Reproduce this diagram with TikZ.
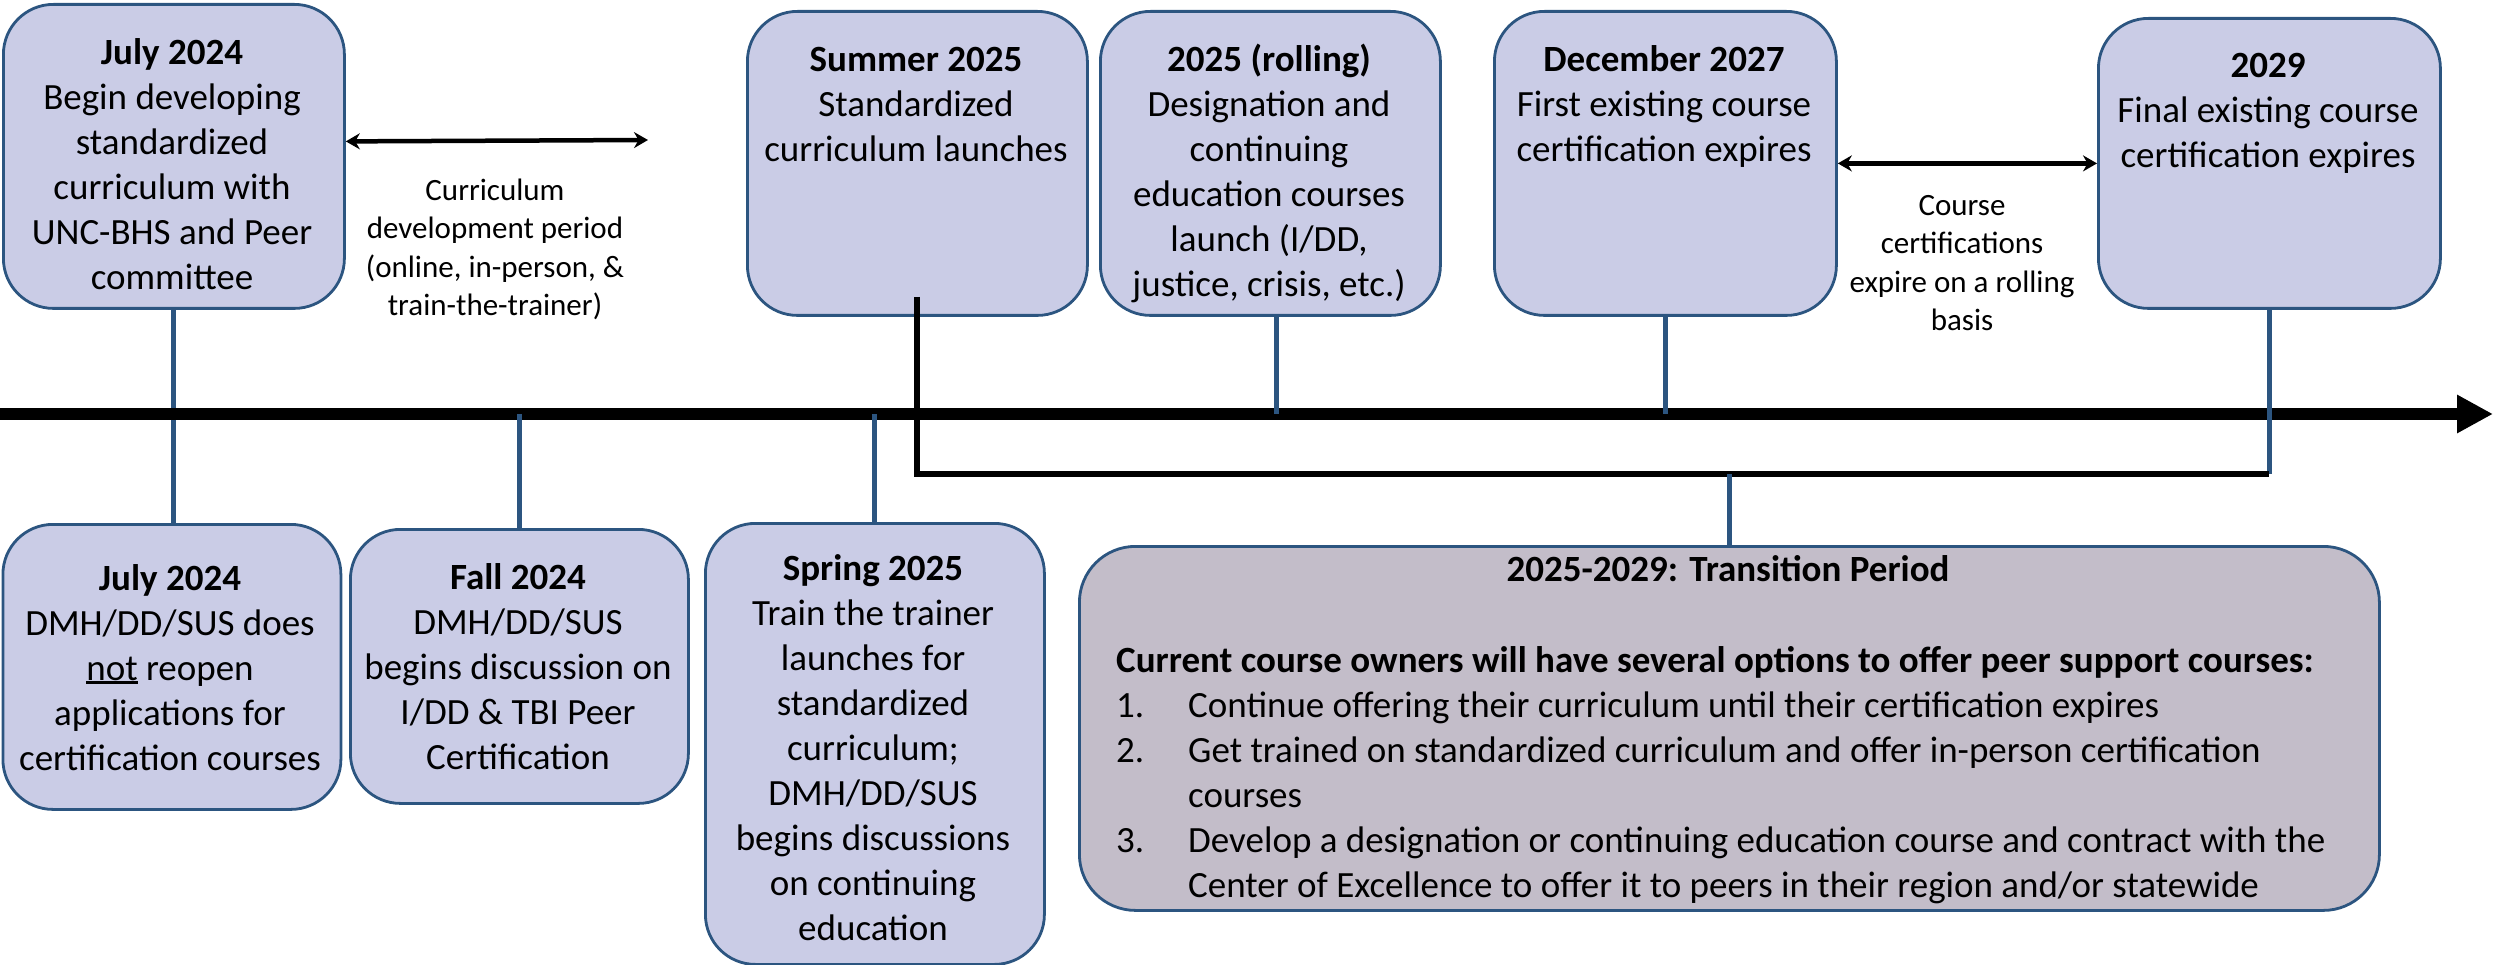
\documentclass[tikz,border=0pt]{standalone}
\usepackage{fontspec}
\setmainfont{Carlito}
\usetikzlibrary{arrows.meta}
\definecolor{boxfill}{RGB}{202,204,230}
\definecolor{transfill}{RGB}{195,189,201}
\definecolor{edgeblue}{RGB}{44,85,128}
\newcommand\myul[1]{\setbox0\hbox{#1}\rlap{\rule[-4pt]{\wd0}{2.8pt}}\box0\relax}
\begin{document}
\begin{tikzpicture}[x=1pt,y=-1pt,
  box/.style={draw=edgeblue, line width=2.8pt, fill=boxfill, rounded corners=50pt, inner sep=0pt, anchor=north west, shape=rectangle},
  tbox/.style={box, fill=transfill, rounded corners=56pt},
  txt/.style={align=center, inner sep=0pt, anchor=north, font=\fontsize{37}{45}\selectfont},
  small/.style={align=center, inner sep=0pt, anchor=north, font=\fontsize{31}{38.5}\selectfont},
  stem/.style={draw=edgeblue, line width=5pt},
  dbl/.style={draw=black, line width=4.5pt, {Stealth[length=14pt,width=16pt]}-{Stealth[length=14pt,width=16pt]}}
]
\useasboundingbox (0,0) rectangle (2496,965);

% boxes
\node[box, minimum width=341pt, minimum height=304pt] (b1) at (2,3) {};
\node[box, minimum width=340pt, minimum height=304pt] (bsum) at (746,10) {};
\node[box, minimum width=340pt, minimum height=304pt] (broll) at (1099,10) {};
\node[box, minimum width=342pt, minimum height=304pt] (bdec) at (1493,10) {};
\node[box, minimum width=342pt, minimum height=290pt] (b29) at (2097,17) {};
\node[box, minimum width=338pt, minimum height=285pt] (b6) at (1.5,523) {};
\node[box, minimum width=338pt, minimum height=274pt] (bfall) at (349,528) {};
\node[box, minimum width=339pt, minimum height=441pt] (bspr) at (704,522) {};
\node[tbox, minimum width=1300pt, minimum height=364pt] (btr) at (1078,545) {};

% coordinates
\coordinate (tl0) at (0,414);
\coordinate (tl1) at (2493,414);
\coordinate (br) at (0,474);
\coordinate (curend) at (648,140);

% stem of first box (behind timeline)
\draw[stem] (b1.south) -- (b1.south |- b6.north);

% timeline
\draw[line width=12pt, -{Triangle[length=36pt,width=36pt]}] (tl0) -- (tl1);

% stems
\draw[stem] (bfall.north |- tl0) -- (bfall.north);
\draw[stem] (bspr.north |- tl0) -- (bspr.north);
\draw[stem] ([xshift=6pt]broll.south) -- ([xshift=6pt]broll.south |- tl0);
\draw[stem] (bdec.south) -- (bdec.south |- tl0);
\draw[stem] (b29.south) -- (b29.south |- br);
\draw[line width=6pt, black] ([yshift=20pt]bsum.south) -- (bsum.south |- br) -- (b29.south |- br);
\draw[stem] (btr.north |- br) -- (btr.north);

% double arrows
\draw[dbl] ([yshift=15pt]b1.east) -- (curend);
\draw[dbl] (bdec.east) -- (b29.west);

% texts
\node[txt] (t1) at (172,32.5) {\strut\textbf{July 2024}\\Begin developing\\standardized\\curriculum with\\UNC-BHS and Peer\\committee};
\node[txt] (tsum) at (916,39.5) {\strut\textbf{Summer 2025}\\Standardized\\curriculum launches};
\node[txt] (troll) at (1269,39.5) {\strut\textbf{2025 (rolling)}\\Designation and\\continuing\\education courses\\launch (I/DD,\\justice, crisis, etc.)};
\node[txt] (tdec) at (1664,39.5) {\strut\textbf{December 2027}\\First existing course\\certification expires};
\node[txt] (t29) at (2268,45.5) {\strut\textbf{2029}\\Final existing course\\certification expires};
\node[small] (tcur) at (495,173) {\strut Curriculum\\development period\\(online, in-person, \&\\train-the-trainer)};
\node[small] (tcourse) at (1962,188) {\strut Course\\certifications\\expire on a rolling\\basis};
\node[txt] (t6) at (170,558.5) {\strut\textbf{July 2024}\\DMH/DD/SUS does\\\myul{not}\ reopen\\applications for\\certification courses};
\node[txt] (tfall) at (518,557.5) {\strut\textbf{Fall 2024}\\DMH/DD/SUS\\begins discussion on\\I/DD \& TBI Peer\\Certification};
\node[txt] (tspr) at (873,548.5) {\strut\textbf{Spring 2025}\\Train the trainer\\launches for\\standardized\\curriculum;\\DMH/DD/SUS\\begins discussions\\on continuing\\education};
\node[txt] (ttr) at (1728,549.5) {\strut\textbf{2025-2029: Transition Period}};
\node[txt, align=left, anchor=north west] (tbody) at (1116,640.5) {\strut\textbf{Current course owners will have several options to offer peer support courses:}\\
\makebox[72pt][l]{1.}Continue offering their curriculum until their certification expires\\
\makebox[72pt][l]{2.}Get trained on standardized curriculum and offer in-person certification\\
\hspace*{72pt}courses\\
\makebox[72pt][l]{3.}Develop a designation or continuing education course and contract with the\\
\hspace*{72pt}Center of Excellence to offer it to peers in their region and/or statewide};
\end{tikzpicture}
\end{document}
